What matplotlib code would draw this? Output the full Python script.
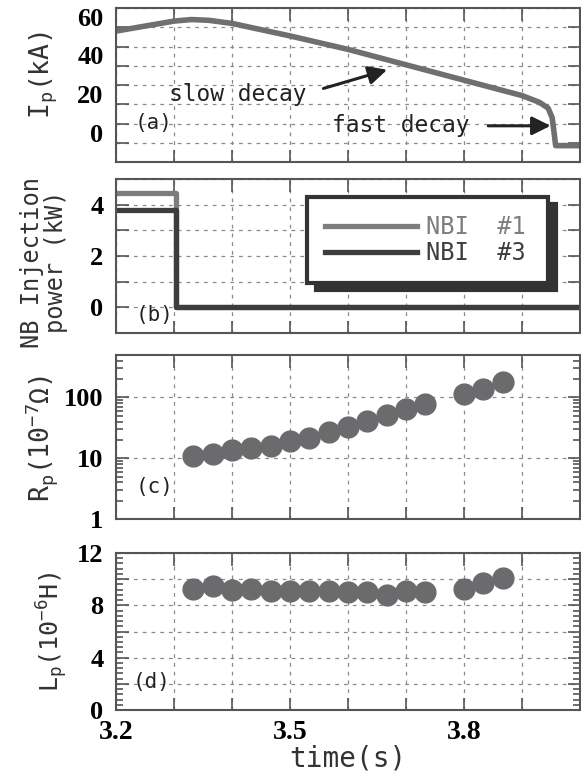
import matplotlib
matplotlib.use('Agg')
import matplotlib.pyplot as plt
from matplotlib.ticker import MultipleLocator, FuncFormatter, LogLocator, NullFormatter

# (a) plasma current
ip_time = [3.20, 3.30, 3.33, 3.36, 3.40, 3.50, 3.60, 3.70, 3.80, 3.90, 3.93, 3.945, 3.952, 3.955, 3.958, 4.00]
ip_ka = [48, 53.2, 54, 53.6, 52, 45.5, 38.5, 30.5, 22.5, 14.5, 11, 8, 3, -4, -11.5, -11.5]

# (b) NB injection power
nbi_time = [3.20, 3.303, 3.303, 4.00]
nbi1_kw = [4.47, 4.47, 0.0, 0.0]
nbi3_kw = [3.81, 3.81, 0.0, 0.0]
nbi_labels = ['NBI  #1', 'NBI  #3']

# (c), (d) plasma resistance and inductance
fit_time = [3.333, 3.367, 3.400, 3.433, 3.467, 3.500, 3.533, 3.567, 3.600, 3.633, 3.667,
            3.700, 3.733, 3.800, 3.833, 3.867]
rp = [10.9, 11.6, 13.5, 14.6, 16.0, 19.3, 21.9, 27.5, 32.8, 41.3, 51.8, 64.2, 77.6, 113, 137, 177]
lp = [9.26, 9.46, 9.21, 9.26, 9.13, 9.06, 9.06, 9.06, 9.0, 9.0, 8.8, 9.06, 9.0, 9.26, 9.72, 10.07]

x_labels = [3.2, 3.5, 3.8]
ip_labels = [60, 40, 20, 0]
nb_labels = [4, 2, 0]
lp_labels = [12, 8, 4, 0]

plt.rcParams['font.family'] = 'Liberation Serif'
plt.rcParams['font.weight'] = 'bold'
plt.rcParams['mathtext.default'] = 'regular'

MONO = 'DejaVu Sans Mono'
W, H = 581, 781

fig = plt.figure(figsize=(W / 100, H / 100), dpi=100)


def add_ax(top, bottom):
    return fig.add_axes([116 / W, 1 - bottom / H, 464 / W, (bottom - top) / H])


def only(vals):
    return FuncFormatter(lambda v, p: ('%g' % v) if any(abs(v - t) < 1e-6 for t in vals) else '')


def style(ax):
    ax.set_xlim(3.2, 4.0)
    ax.xaxis.set_major_locator(MultipleLocator(0.1))
    ax.grid(True, which='major', color='#8a8a8a', ls=(0, (3, 4)), lw=0.9)
    ax.set_axisbelow(True)
    ax.tick_params(which='both', direction='in', top=True, right=True, color='#555555', width=1.2)
    ax.tick_params(which='major', length=9)
    ax.tick_params(which='minor', length=5)
    ax.tick_params(axis='y', labelsize=19, pad=9)
    ax.tick_params(axis='x', labelsize=20, pad=7)
    for s in ax.spines.values():
        s.set_color('#555555')
        s.set_linewidth(1.5)


axa = add_ax(8, 162)
axb = add_ax(179, 333)
axc = add_ax(355, 519)
axd = add_ax(553, 710)

# (a)
style(axa)
axa.plot(ip_time, ip_ka, color='#6f6f6f', lw=4, solid_joinstyle='round')
axa.set_ylim(-20, 60)
axa.yaxis.set_major_locator(MultipleLocator(10))
axa.yaxis.set_major_formatter(only(ip_labels))
for lab in axa.get_yticklabels():
    lab.set_va('top')
axa.text(3.292, 15.2, 'slow decay', family=MONO, weight='normal', size=16.5, va='center', color='#222222')
axa.annotate('', xy=(3.672, 28.3), xytext=(3.553, 17.8),
             arrowprops=dict(arrowstyle='-|>', color='#222222', lw=2.2, mutation_scale=28))
axa.text(3.573, -1.2, 'fast decay', family=MONO, weight='normal', size=16.5, va='center', color='#222222')
axa.annotate('', xy=(3.954, -1.2), xytext=(3.837, -1.2),
             arrowprops=dict(arrowstyle='-|>', color='#222222', lw=2.2, mutation_scale=28))
axa.text(3.264, 0.5, '(a)', family=MONO, weight='normal', size=15, ha='center', va='center', color='#222222')

# (b)
style(axb)
l1, = axb.plot(nbi_time, nbi1_kw, color='#7d7d7d', lw=3.8)
l3, = axb.plot(nbi_time, nbi3_kw, color='#3d3d3d', lw=3.8)
axb.set_ylim(-1, 5)
axb.yaxis.set_major_locator(MultipleLocator(1))
axb.yaxis.set_major_formatter(only(nb_labels))
leg = axb.legend([l1, l3], nbi_labels, loc='center', bbox_to_anchor=(0.412, 0.299, 0.519, 0.61),
                 mode='expand', borderaxespad=0, prop={'family': MONO, 'size': 17, 'weight': 'normal'},
                 handlelength=3.9, handletextpad=0.4, labelspacing=0.1, borderpad=0.75,
                 fancybox=False, framealpha=1,
                 shadow={'ox': 6, 'oy': -5, 'color': '#333333', 'alpha': 1})
leg.get_frame().set_edgecolor('#333333')
leg.get_frame().set_linewidth(3)
for t, c in zip(leg.get_texts(), ['#7d7d7d', '#3d3d3d']):
    t.set_color(c)
axb.text(3.267, -0.3, '(b)', family=MONO, weight='normal', size=15, ha='center', va='center', color='#222222')

# (c)
style(axc)
axc.plot(fit_time, rp, 'o', color='#6b6b6e', ms=15)
axc.set_yscale('log')
axc.set_ylim(1, 500)
axc.yaxis.set_major_locator(LogLocator(base=10, numticks=10))
axc.yaxis.set_minor_locator(LogLocator(base=10, subs=range(2, 10), numticks=10))
axc.yaxis.set_minor_formatter(NullFormatter())
axc.yaxis.set_major_formatter(FuncFormatter(lambda v, p: '%d' % round(v)))
axc.text(3.267, 3.3, '(c)', family=MONO, weight='normal', size=15, ha='center', va='center', color='#222222')

# (d)
style(axd)
axd.plot(fit_time, lp, 'o', color='#6b6b6e', ms=15)
axd.set_ylim(0, 12)
axd.yaxis.set_major_locator(MultipleLocator(2))
axd.yaxis.set_minor_locator(MultipleLocator(0.4))
axd.yaxis.set_major_formatter(only(lp_labels))
axd.text(3.261, 2.15, '(d)', family=MONO, weight='normal', size=15, ha='center', va='center', color='#222222')

for ax in (axa, axb, axc):
    ax.tick_params(labelbottom=False)
axd.xaxis.set_major_formatter(only(x_labels))

# axis titles
def fig_label(x, y, s, **kw):
    fig.text(x / W, 1 - y / H, s, rotation=90, ha='center', va='center', family=MONO,
             weight='normal', color='#333333', **kw)

fig_label(44, 75, r'I$_{p}$(kA)', size=19)
fig_label(44, 262, 'NB Injection\npower (kW)', size=17, linespacing=0.95)
fig_label(42, 438, r'R$_{p}$(10$^{-7}$Ω)', size=19)
fig_label(52, 632, r'L$_{p}$(10$^{-6}$H)', size=18)
fig.text(348 / W, 1 - 758 / H, 'time(s)', ha='center', va='center', family=MONO,
         weight='normal', size=20, color='#333333')

fig.savefig('out.png', dpi=100)
